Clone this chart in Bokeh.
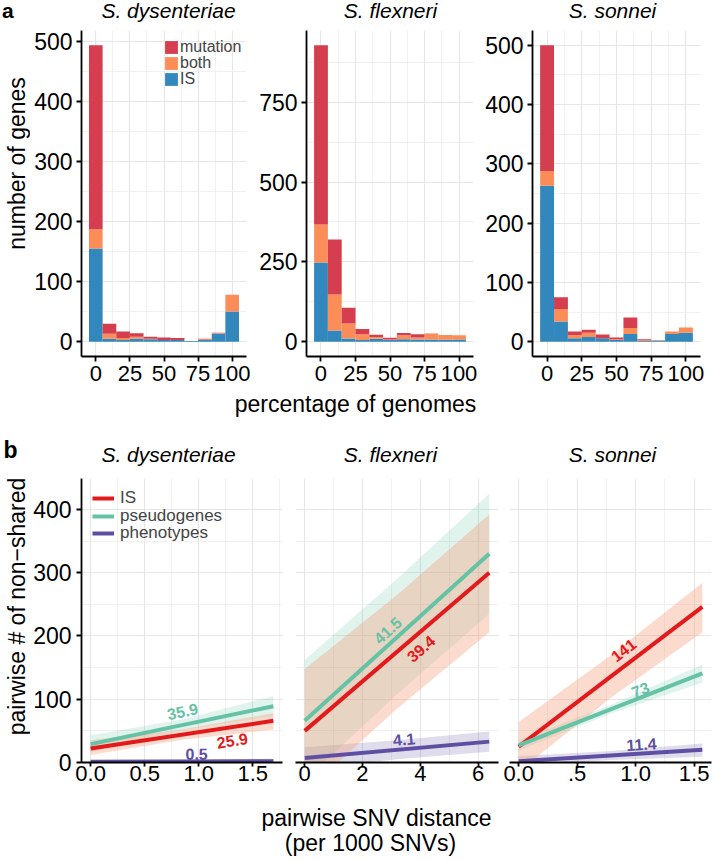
import math
from bokeh.plotting import figure
from bokeh.layouts import column, row
from bokeh.models import Range1d, FixedTicker, Label, Legend, LegendItem, ColumnDataSource
from bokeh.core.properties import value
from bokeh.embed import file_html
from bokeh.resources import INLINE

FONT = "Liberation Sans"

# ---------------- data: panel a ----------------
species = ["S. dysenteriae", "S. flexneri", "S. sonnei"]
pct_bins = [0, 10, 20, 30, 40, 50, 60, 70, 80, 90, 100]
categories = ["IS", "both", "mutation"]

dys_IS = [155, 5, 3, 5, 4, 3, 3, 1, 3, 13, 50]
dys_both = [32, 8, 3, 3, 1, 0, 0, 0, 1, 1, 28]
dys_mutation = [306, 17, 11, 6, 3, 4, 3, 0, 1, 1, 0]

flex_IS = [248, 35, 10, 5, 9, 5, 8, 7, 7, 6, 7]
flex_both = [119, 113, 47, 18, 6, 2, 12, 6, 18, 15, 13]
flex_mutation = [561, 172, 49, 17, 7, 5, 7, 10, 1, 0, 0]

son_IS = [263, 34, 6, 8, 6, 3, 13, 1, 2, 13, 15]
son_both = [25, 21, 5, 7, 0, 1, 10, 2, 1, 4, 9]
son_mutation = [212, 20, 6, 5, 6, 3, 18, 1, 0, 0, 0]

a_xticks = [0, 25, 50, 75, 100]
a_xtick_labels = ["0", "25", "50", "75", "100"]
a_xminor = [12.5, 37.5, 62.5, 87.5]
a_yticks = [[0, 100, 200, 300, 400, 500], [0, 250, 500, 750], [0, 100, 200, 300, 400, 500]]
a_yminor = [[50, 150, 250, 350, 450], [125, 375, 625, 875], [50, 150, 250, 350, 450]]
a_ymax = [493, 928, 500]

# ---------------- data: panel b ----------------
snv_max = [1.69, 6.39, 1.57]
# fitted line value at x = 0 and x = max
IS_line = [[22, 66], [50, 300], [25, 246]]
pseudo_line = [[29, 89], [66, 330], [27, 141]]
pheno_line = [[1, 2], [7, 33], [2, 20]]
# confidence bands at x = 0, max/2, max
IS_lo = [[12, 36, 52], [-48, 85, 206], [-14, 102, 206]]
IS_hi = [[35, 52, 78], [148, 265, 392], [64, 169, 284]]
pseudo_lo = [[16, 51, 73], [-28, 108, 235], [19, 77, 126]]
pseudo_hi = [[43, 68, 105], [162, 290, 425], [35, 91, 155]]
pheno_lo = [[-2, -1, -2], [-10, 5, 17], [-6, 4, 9]]
pheno_hi = [[4, 3, 6], [24, 35, 49], [10, 18, 30]]
# slope labels
IS_lab = ["25.9", "39.4", "141"]
IS_lab_x = [1.31, 4.02, 0.895]
IS_lab_y = [35, 180, 178]
pseudo_lab = ["35.9", "41.5", "73"]
pseudo_lab_x = [0.85, 2.87, 1.04]
pseudo_lab_y = [81, 209, 115]
pheno_lab = ["0.5", "4.1", "11.4"]
pheno_lab_x = [0.98, 3.44, 1.05]
pheno_lab_y = [14, 37, 29]

b_xticks = [[0, 0.5, 1.0, 1.5], [0, 2, 4, 6], [0, 0.5, 1.0, 1.5]]
b_xtick_labels = [["0.0", "0.5", "1.0", "1.5"], ["0", "2", "4", "6"], ["0.0", ".5", "1.0", "1.5"]]
b_xminor = [[0.25, 0.75, 1.25, 1.75], [1, 3, 5], [0.25, 0.75, 1.25]]
b_yticks = [0, 100, 200, 300, 400]
b_yminor = [50, 150, 250, 350, 450]

COL_MUT, COL_BOTH, COL_IS = "#d53e4f", "#fc8d59", "#3288bd"
COL_R, COL_G, COL_P = "#e31a1c", "#66c2a5", "#5e4fa2"

# ---------------- layout geometry (page px, page origin = top-left) ----------------
W = 712
A_ROW = (30, 388)          # canvas top/bottom of panel-a row
A_TOP, A_BOT = 30, 356     # frame top/bottom
A_FRAMES = [(81, 246), (306, 473), (532, 700)]
A_CANVAS = [(30, 252), (252, 478), (478, 712)]
B_ROW = (478, 790)
B_TOP, B_BOT = 478, 762
B_FRAMES = [(81, 282), (295, 498), (509, 711)]
B_CANVAS = [(30, 288), (288, 502), (502, 712)]
SHIFT = 0.35   # label anchor correction (fraction of font size)


def make_fig(canvas, frame, rowy, ftop, fbot, xr, yr, show_y=True):
    p = figure(width=canvas[1] - canvas[0], height=rowy[1] - rowy[0],
               x_range=Range1d(*xr), y_range=Range1d(*yr),
               min_border_left=frame[0] - canvas[0], min_border_right=canvas[1] - frame[1],
               min_border_top=ftop - rowy[0], min_border_bottom=rowy[1] - fbot,
               output_backend="svg", toolbar_location=None,
               y_axis_location="left" if show_y else None)
    p.outline_line_color = None
    p.background_fill_color = "white"
    p.border_fill_color = "white"
    for ax in p.axis:
        ax.axis_line_color = "black"
        ax.axis_line_width = 1.8
        ax.major_tick_line_color = "black"
        ax.major_tick_line_width = 1.8
        ax.major_tick_in = 0
        ax.major_tick_out = 5
        ax.minor_tick_line_color = None
        ax.major_label_text_font = FONT
        ax.major_label_text_font_size = "22px"
        ax.major_label_text_color = "black"
    p.yaxis.major_label_text_font_size = "23px"
    for g in (p.xgrid, p.ygrid):
        g.grid_line_color = "#e6e6e6"
        g.grid_line_width = 1.2
        g.minor_grid_line_color = "#eeeeee"
        g.minor_grid_line_width = 0.8
    return p


def make_strip(x0, x1, y0, y1):
    s = figure(width=x1 - x0, height=y1 - y0, x_range=Range1d(0, 1), y_range=Range1d(0, 1),
               min_border=0, output_backend="svg", toolbar_location=None,
               x_axis_location=None, y_axis_location=None)
    s.outline_line_color = None
    s.xgrid.visible = False
    s.ygrid.visible = False
    s.background_fill_color = "white"
    s.border_fill_color = "white"
    s._box = (x0, x1, y0, y1)
    return s


def strip_text(s, x, y, text, size, style="normal", rotated=False, align="center"):
    """x, y: page position of the text's alphabetic baseline anchor."""
    x0, x1, y0, y1 = s._box
    if rotated:
        x = x - SHIFT * size
    else:
        y = y - SHIFT * size
    s.add_layout(Label(x=x - x0, y=y1 - y, x_units="screen", y_units="screen",
                       text=text, text_font=FONT, text_font_size=f"{size}px",
                       text_font_style=style, angle=(math.pi / 2 if rotated else 0.0),
                       text_align=align, text_baseline="alphabetic", text_color="black"))


def one_item_legend(p, label, renderer, frame_left, frame_bot, x, yc, gw, gh, h, size, standoff):
    """single-row legend; x = page x of glyph start, yc = page y of row centre."""
    leg = Legend(items=[LegendItem(label=label, renderers=[renderer])],
                 location=(x - frame_left, frame_bot - yc - h / 2),
                 glyph_width=gw, glyph_height=gh, label_height=gh, spacing=0,
                 padding=0, margin=0, label_standoff=standoff,
                 label_text_font=FONT, label_text_font_size=f"{size}px",
                 border_line_alpha=0, background_fill_alpha=0)
    p.add_layout(leg)


title_x = [168, 390, 612]

# ---------------- header strip a ----------------
top_a = make_strip(0, W, 0, A_ROW[0])
strip_text(top_a, 1.5, 17, "a", 21, "bold", align="left")
for i in range(3):
    strip_text(top_a, title_x[i], 17, species[i], 21, "italic")

ylab_a = make_strip(0, 30, A_ROW[0], A_ROW[1])
strip_text(ylab_a, 25, 195, "number of genes", 23, rotated=True)

# ---------------- panel a ----------------
a_data = [(dys_IS, dys_both, dys_mutation), (flex_IS, flex_both, flex_mutation),
          (son_IS, son_both, son_mutation)]
a_figs = []
for i in range(3):
    ymax = a_ymax[i]
    pad = ymax * 0.05
    p = make_fig(A_CANVAS[i], A_FRAMES[i], A_ROW, A_TOP, A_BOT,
                 (-10.5, 110.5), (-pad, ymax + pad))
    p.xaxis.major_label_standoff = 4
    p.yaxis.major_label_standoff = 4
    p.xaxis.ticker = FixedTicker(ticks=a_xticks)
    p.xaxis.major_label_overrides = {t: l for t, l in zip(a_xticks, a_xtick_labels)}
    p.yaxis.ticker = FixedTicker(ticks=a_yticks[i])
    p.xgrid.ticker = FixedTicker(ticks=a_xticks, minor_ticks=a_xminor)
    p.ygrid.ticker = FixedTicker(ticks=a_yticks[i], minor_ticks=a_yminor[i])
    is_, both_, mut_ = a_data[i]
    src = ColumnDataSource(dict(x=pct_bins, IS=is_, both=both_, mutation=mut_))
    rs = p.vbar_stack(categories, x="x", width=10, source=src,
                      color=[COL_IS, COL_BOTH, COL_MUT], line_color=None)
    if i == 0:
        for lab, r, yc in [("mutation", rs[2], 46.7), ("both", rs[1], 62.5), ("IS", rs[0], 79)]:
            one_item_legend(p, lab, r, A_FRAMES[0][0], A_BOT, 163, yc, 16, 16, 18, 16, 1)
    a_figs.append(p)

xlab_a = make_strip(0, W, A_ROW[1], 424)
strip_text(xlab_a, 355, 412, "percentage of genomes", 23)

# ---------------- header strip b ----------------
top_b = make_strip(0, W, 424, B_ROW[0])
strip_text(top_b, 3, 458, "b", 23, "bold", align="left")
for i in range(3):
    strip_text(top_b, title_x[i], 461, species[i], 21, "italic")

ylab_b = make_strip(0, 30, B_ROW[0], B_ROW[1])
strip_text(ylab_b, 25, 634, "pairwise # of non\u2212shared", 23, rotated=True)

# ---------------- panel b ----------------
b_figs = []
for i in range(3):
    xmax = snv_max[i]
    pad = xmax * 0.05
    xr = (-pad, xmax + pad)
    yr = (0, 449)
    p = make_fig(B_CANVAS[i], B_FRAMES[i], B_ROW, B_TOP, B_BOT, xr, yr, show_y=(i == 0))
    p.xaxis.major_tick_out = 4
    p.xaxis.major_label_standoff = -1
    p.yaxis.major_label_standoff = 5
    p.xaxis.ticker = FixedTicker(ticks=b_xticks[i])
    p.xaxis.major_label_overrides = {t: l for t, l in zip(b_xticks[i], b_xtick_labels[i])}
    p.yaxis.ticker = FixedTicker(ticks=b_yticks)
    p.xgrid.ticker = FixedTicker(ticks=b_xticks[i], minor_ticks=b_xminor[i])
    p.ygrid.ticker = FixedTicker(ticks=b_yticks, minor_ticks=b_yminor)

    xb = [0, xmax / 2, xmax]
    xl = [0, xmax]
    p.varea(x=xb, y1=pheno_lo[i], y2=pheno_hi[i], fill_color=COL_P, fill_alpha=0.2)
    p.varea(x=xb, y1=pseudo_lo[i], y2=pseudo_hi[i], fill_color=COL_G, fill_alpha=0.2)
    p.varea(x=xb, y1=IS_lo[i], y2=IS_hi[i], fill_color="#f4a582", fill_alpha=0.4)
    r_is = p.line(xl, IS_line[i], line_width=4, line_color=COL_R)
    r_ps = p.line(xl, pseudo_line[i], line_width=4, line_color=COL_G)
    r_ph = p.line(xl, pheno_line[i], line_width=4, line_color=COL_P)

    fw = B_FRAMES[i][1] - B_FRAMES[i][0]
    fh = B_BOT - B_TOP
    kx = fw / (xr[1] - xr[0])
    ky = fh / (yr[1] - yr[0])
    for lab, lx, ly, line, col in [(IS_lab, IS_lab_x, IS_lab_y, IS_line, COL_R),
                                   (pseudo_lab, pseudo_lab_x, pseudo_lab_y, pseudo_line, COL_G),
                                   (pheno_lab, pheno_lab_x, pheno_lab_y, pheno_line, COL_P)]:
        slope = (line[i][1] - line[i][0]) / xmax
        ang = math.atan(slope * ky / kx)
        p.text(x=[lx[i]], y=[ly[i]], text=[lab[i]], angle=ang, text_color=col,
               text_font=value(FONT), text_font_size="16px", text_font_style="bold",
               text_align="center", text_baseline="middle")

    if i == 0:
        for lab, r, yc in [("IS", r_is, 498), ("pseudogenes", r_ps, 515.5),
                           ("phenotypes", r_ph, 533)]:
            one_item_legend(p, lab, r, B_FRAMES[0][0], B_BOT, 92, yc, 22, 20, 20, 17, 6)
    b_figs.append(p)

xlab_b = make_strip(0, W, B_ROW[1], 860)
strip_text(xlab_b, 376, 826, "pairwise SNV distance", 23)
strip_text(xlab_b, 370, 851, "(per 1000 SNVs)", 23)

layout = column(top_a,
                row(ylab_a, *a_figs, spacing=0),
                xlab_a,
                top_b,
                row(ylab_b, *b_figs, spacing=0),
                xlab_b,
                spacing=0)

open("out.html", "w").write(file_html(layout, INLINE))
